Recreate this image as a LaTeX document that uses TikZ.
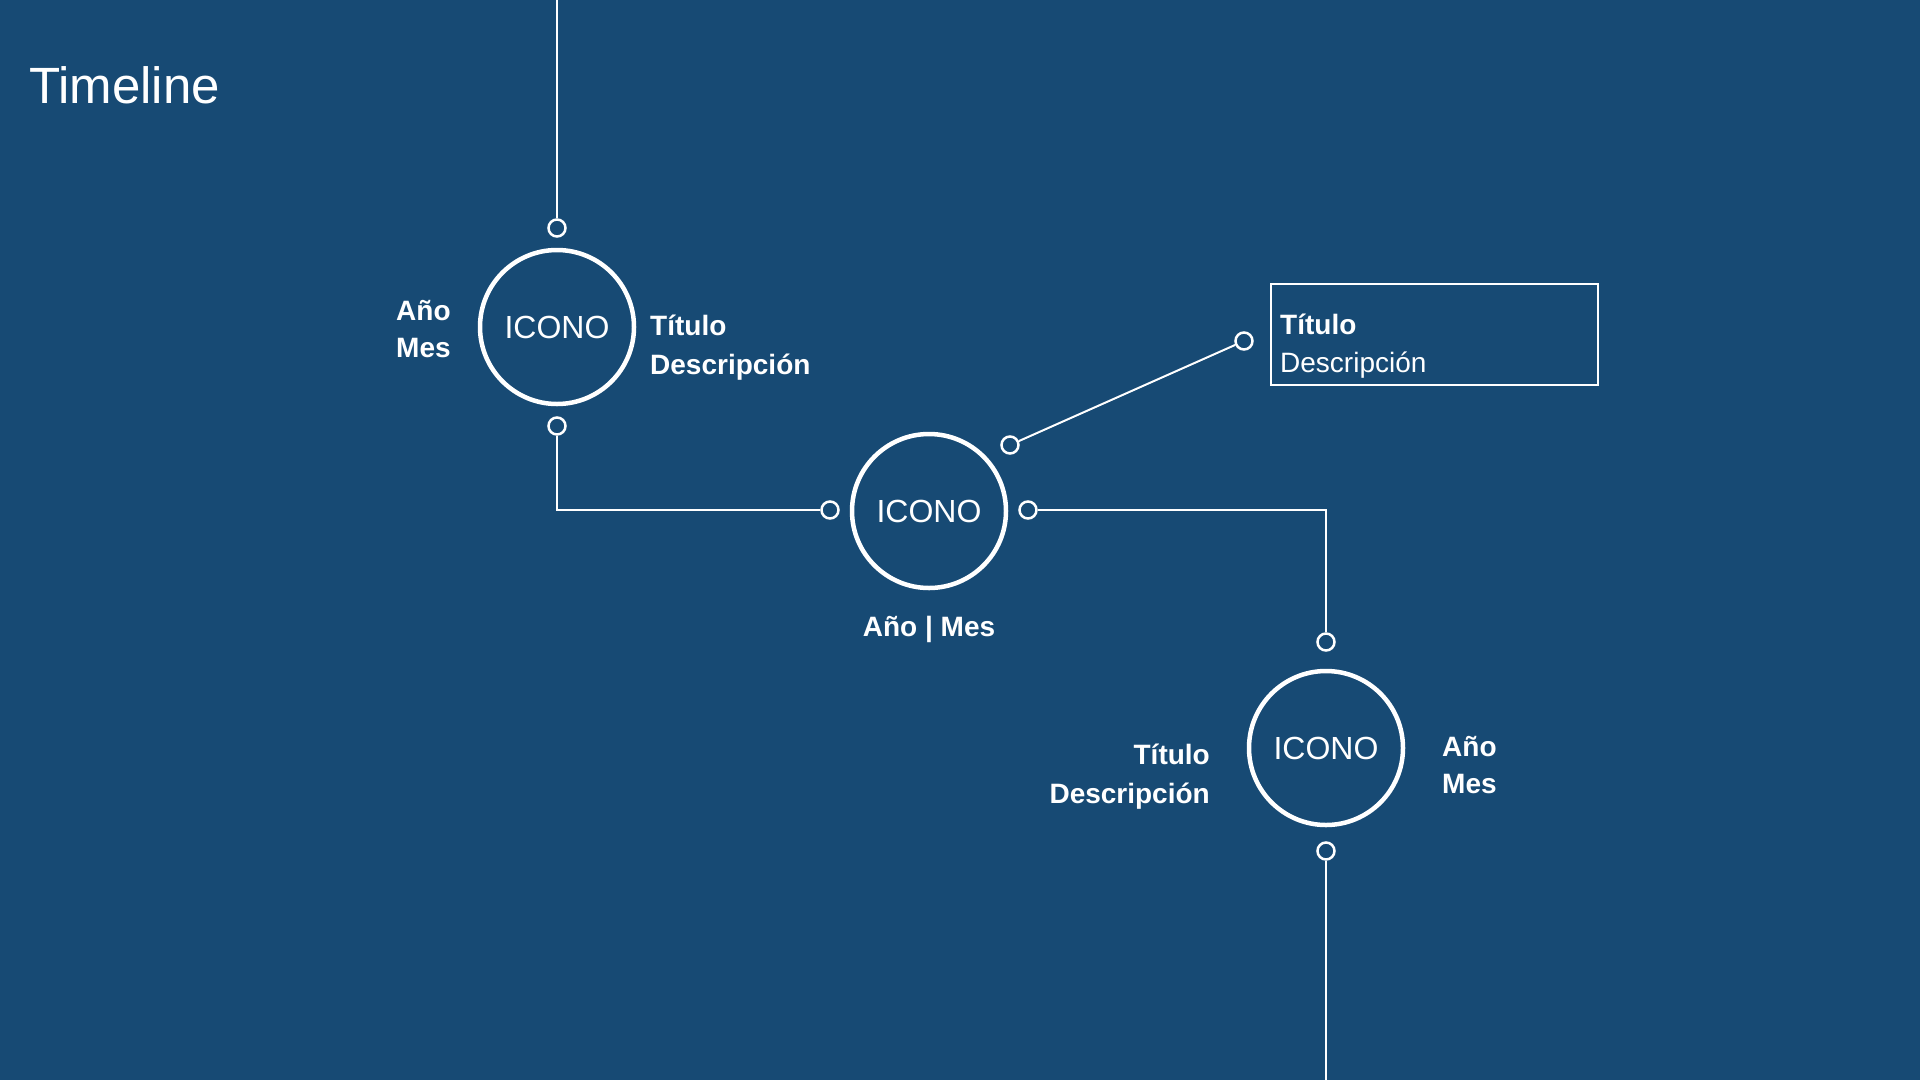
\documentclass[tikz,border=0pt]{standalone}
\usepackage{fontspec}
\setmainfont{Liberation Sans}
\usepackage{tikz}
\definecolor{slide}{RGB}{23,74,116}

\begin{document}
\begin{tikzpicture}[x=1pt,y=-1pt,
    icono/.style={circle,draw=white,line width=4.5pt,minimum size=154pt,
        inner sep=0pt,text=white,font=\fontsize{32}{32}\selectfont},
    port/.style={circle,draw=white,line width=2.5pt,minimum size=17pt,inner sep=0pt},
    wire/.style={white,line width=2pt},
    lbl/.style={text=white,inner sep=0pt,font=\bfseries\fontsize{28}{38.5}\selectfont},
    fecha/.style={lbl,font=\bfseries\fontsize{28}{37}\selectfont}]

    \fill[slide] (0,0) rectangle (1920,1080);
    \useasboundingbox (0,0) rectangle (1920,1080);

    \node[anchor=base west,text=white,inner sep=0pt,
        font=\fontsize{51}{51}\selectfont] (title) at (29,103) {Timeline};

    % hitos
    \node[icono] (c1) at (557,327) {ICONO};
    \node[icono] (c2) at (929,511) {ICONO};
    \node[icono] (c3) at (1326,748) {ICONO};

    \foreach \name/\px/\py in {p1t/557/228,p1b/557/426,p2l/830/510,p2r/1028/510,
            p2d/1010/445,pbox/1244/341,p3t/1326/642,p3b/1326/851} {
        \node[port] (\name) at (\px,\py) {};
    }

    \coordinate (top) at (557,0);
    \coordinate (bot) at (1326,1080);

    \draw[wire] (top) -- (p1t);
    \draw[wire] (p1b) |- (p2l);
    \draw[wire] (p2r) -| (p3t);
    \draw[wire] (p2d) -- (pbox);
    \draw[wire] (p3b) -- (bot);

    % caja
    \node[draw=white,line width=2pt,minimum width=327pt,minimum height=101pt,
        inner sep=0pt] (box) at (1434.5,334.5) {};
    \node[anchor=west,text=white,inner sep=0pt,align=left,
        font=\fontsize{28}{38}\selectfont] (boxtxt) at (1280,346)
        {\textbf{Título}\\Descripción};

    % textos
    \node[fecha,anchor=west,align=left] (c1l) at (396,329.5) {Año\\Mes};
    \node[lbl,anchor=west,align=left] (c1r) at (650,347.5) {Título\\Descripción};
    \node[lbl] (c2b) at (929,629.5) {Año | Mes};
    \node[lbl,anchor=east,align=right] (c3l) at (1210,776.5) {Título\\Descripción};
    \node[fecha,anchor=west,align=left] (c3r) at (1442,765.5) {Año\\Mes};
\end{tikzpicture}
\end{document}
